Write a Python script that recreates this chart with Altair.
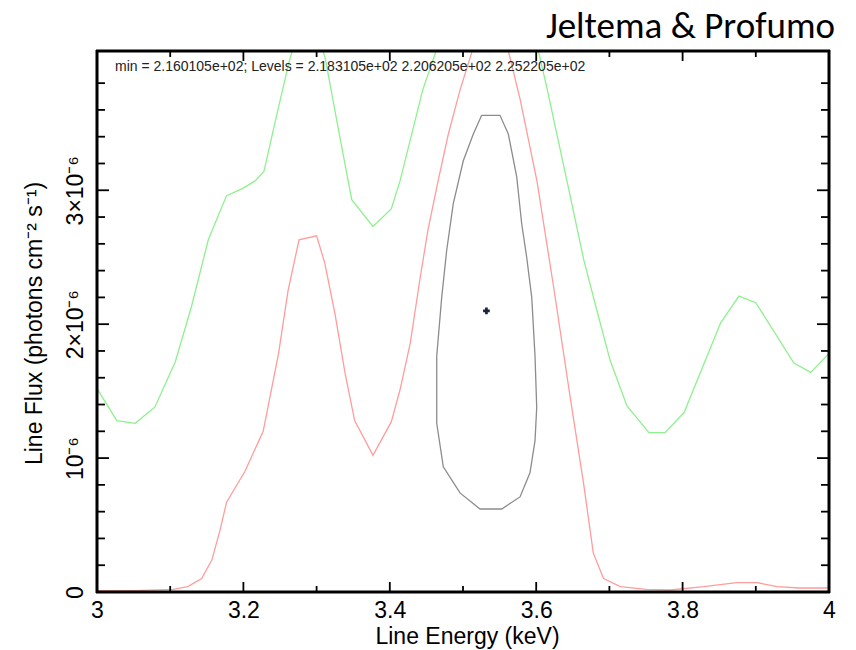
import altair as alt
import pandas as pd

# ---------------- data (flux in units of 1e-6 photons cm^-2 s^-1) ----------------
green_e = [3.000, 3.027, 3.052, 3.079, 3.107, 3.129, 3.152, 3.177, 3.198, 3.216, 3.228,
           3.245, 3.262, 3.280, 3.295, 3.312, 3.330, 3.348, 3.377, 3.402, 3.414, 3.445,
           3.462, 3.500, 3.550, 3.585, 3.603, 3.614, 3.642, 3.665, 3.683, 3.701, 3.724,
           3.754, 3.776, 3.802, 3.852, 3.877, 3.900, 3.952, 3.975, 4.000]
green_f = [1.52, 1.28, 1.26, 1.38, 1.72, 2.13, 2.63, 2.96, 3.01, 3.07, 3.14,
           3.55, 3.95, 4.30, 4.30, 3.98, 3.45, 2.93, 2.73, 2.86, 3.07, 3.75,
           4.02, 4.60, 4.80, 4.50, 4.04, 3.78, 3.07, 2.48, 2.10, 1.73, 1.39,
           1.19, 1.19, 1.34, 2.01, 2.21, 2.16, 1.71, 1.64, 1.78]

red_e = [3.000, 3.050, 3.104, 3.124, 3.143, 3.157, 3.168, 3.177, 3.202, 3.227, 3.248,
         3.261, 3.276, 3.300, 3.311, 3.325, 3.339, 3.352, 3.377, 3.402, 3.414, 3.428,
         3.441, 3.452, 3.466, 3.480, 3.496, 3.512, 3.530, 3.545, 3.562, 3.578, 3.601,
         3.624, 3.646, 3.665, 3.678, 3.692, 3.715, 3.750, 3.783, 3.829, 3.874, 3.902,
         3.929, 3.960, 4.000]
red_f = [0.01, 0.01, 0.02, 0.04, 0.10, 0.24, 0.46, 0.67, 0.90, 1.20, 1.78,
         2.25, 2.63, 2.66, 2.46, 2.08, 1.63, 1.28, 1.02, 1.27, 1.51, 1.86,
         2.33, 2.70, 3.07, 3.42, 3.75, 4.03, 4.35, 4.35, 4.04, 3.68, 3.07,
         2.27, 1.47, 0.80, 0.29, 0.10, 0.04, 0.02, 0.015, 0.04, 0.07, 0.07,
         0.04, 0.03, 0.03]

contour_e = [3.5255, 3.5505, 3.5619, 3.5734, 3.5802, 3.5870, 3.5939, 3.5984, 3.6007,
             3.5984, 3.5915, 3.5779, 3.5529, 3.5232, 3.4959, 3.4731, 3.4641, 3.4641,
             3.4709, 3.4777, 3.4867, 3.5004, 3.5141, 3.5255]
contour_f = [3.56, 3.56, 3.42, 3.10, 2.75, 2.50, 2.20, 1.76, 1.38,
             1.13, 0.89, 0.71, 0.62, 0.62, 0.74, 0.935, 1.26, 1.76,
             2.20, 2.55, 2.90, 3.22, 3.42, 3.56]

best_e = [3.532]
best_f = [2.10]

x_major = [3.0, 3.2, 3.4, 3.6, 3.8, 4.0]
x_minor = [3.1, 3.3, 3.5, 3.7, 3.9]
y_major = [0, 1, 2, 3]
y_minor = [0.2, 0.4, 0.6, 0.8, 1.2, 1.4, 1.6, 1.8, 2.2, 2.4, 2.6, 2.8, 3.2, 3.4, 3.6, 3.8]

x_labels = [3, 3.2, 3.4, 3.6, 3.8, 4]
y_labels = [0, 1, 2, 3]

annotation = "min = 2.160105e+02; Levels =  2.183105e+02 2.206205e+02 2.252205e+02"
credit = "Jeltema & Profumo"

# ---------------- chart ----------------
W, H = 732, 541
XD = [3, 4]
YD = [0, 4.04]
FONT = "Liberation Sans, Arial, sans-serif"

x_axis = alt.Axis(values=x_labels, format="~g", grid=False, domain=False, ticks=False,
                  tickSize=0, labelPadding=7, labelFontSize=23, labelFont=FONT,
                  labelColor="black", labelFlush=False, labelOverlap=False,
                  title="Line Energy (keV)", titleFontSize=23, titleFont=FONT,
                  titleFontWeight="normal", titleColor="black", titleX=370, titleY=44,
                  titleBaseline="middle", titleAlign="center")
y_axis = alt.Axis(values=y_labels,
                  labelExpr="datum.value == 0 ? '0' : (datum.value == 1 ? '10⁻⁶' : datum.value + '×10⁻⁶')",
                  grid=False, domain=False, ticks=False, tickSize=0, labelPadding=15,
                  labelAngle=270, labelAlign="center", labelBaseline="alphabetic",
                  labelFontSize=23, labelFont=FONT, labelColor="black",
                  labelFlush=False, labelOverlap=False,
                  title="Line Flux (photons cm⁻² s⁻¹)", titleAngle=270, titleX=-63, titleY=272,
                  titleAlign="center", titleBaseline="middle", titleFontSize=23,
                  titleFont=FONT, titleFontWeight="normal", titleColor="black")

xs = alt.Scale(domain=XD, nice=False, zero=False)
ys = alt.Scale(domain=YD, nice=False, zero=False)


def X(f="e"):
    return alt.X(f"{f}:Q", scale=xs, axis=x_axis)


def Y(f="f"):
    return alt.Y(f"{f}:Q", scale=ys, axis=y_axis)


def line_df(e, f):
    return pd.DataFrame({"e": e, "f": f, "i": list(range(len(e)))})


green = alt.Chart(line_df(green_e, green_f)).mark_line(
    color="#8ff08f", strokeWidth=1.3, clip=True).encode(x=X(), y=Y(), order="i:Q")
red = alt.Chart(line_df(red_e, red_f)).mark_line(
    color="#ff9c9c", strokeWidth=1.3, clip=True).encode(x=X(), y=Y(), order="i:Q")
contour = alt.Chart(line_df(contour_e, contour_f)).mark_line(
    color="#8c8c8c", strokeWidth=1.3).encode(x=X(), y=Y(), order="i:Q")
best = alt.Chart(pd.DataFrame({"e": best_e, "f": best_f})).mark_point(
    shape="cross", filled=True, size=45, color="#1c2340", opacity=1).encode(x=X(), y=Y())


# ticks (inward, all four sides)
def xticks(vals, length):
    df = pd.DataFrame({"e": vals})
    bot = alt.Chart(df).mark_rule(color="black", strokeWidth=1.8).encode(
        x=X(), y=alt.value(H), y2=alt.value(H - length))
    top = alt.Chart(df).mark_rule(color="black", strokeWidth=1.8).encode(
        x=X(), y=alt.value(0), y2=alt.value(length))
    return [bot, top]


def yticks(vals, length):
    df = pd.DataFrame({"f": vals})
    left = alt.Chart(df).mark_rule(color="black", strokeWidth=1.8).encode(
        y=Y(), x=alt.value(0), x2=alt.value(length))
    right = alt.Chart(df).mark_rule(color="black", strokeWidth=1.8).encode(
        y=Y(), x=alt.value(W), x2=alt.value(W - length))
    return [left, right]


# frame drawn along the scale limits
frame = [
    alt.Chart(pd.DataFrame({"e": XD})).mark_rule(color="black", strokeWidth=3).encode(
        x=X(), y=alt.value(-1), y2=alt.value(H + 1)),
    alt.Chart(pd.DataFrame({"f": YD})).mark_rule(color="black", strokeWidth=3).encode(
        y=Y(), x=alt.value(-1), x2=alt.value(W + 1)),
]

ann = alt.Chart(pd.DataFrame({"t": [annotation]})).mark_text(
    align="left", baseline="middle", fontSize=14, font=FONT, color="#222222").encode(
    text="t:N", x=alt.value(18), y=alt.value(16))
cred = alt.Chart(pd.DataFrame({"t": [credit]})).mark_text(
    align="right", baseline="alphabetic", fontSize=37, font="Carlito, Lato, sans-serif",
    color="black").encode(text="t:N", x=alt.value(738), y=alt.value(-13))

layers = [green, red, contour, best] + xticks(x_major, 10) + xticks(x_minor, 6) \
    + yticks(y_major, 12) + yticks(y_minor, 8) + frame + [ann, cred]

chart = alt.layer(*layers).properties(
    width=W, height=H,
    autosize=alt.AutoSizeParams(type="none"),
    padding={"left": 97, "top": 51, "right": 27, "bottom": 58},
).configure_view(strokeWidth=0).configure(background="white")

chart.save("out.html", embed_options={"renderer": "svg", "actions": False})
